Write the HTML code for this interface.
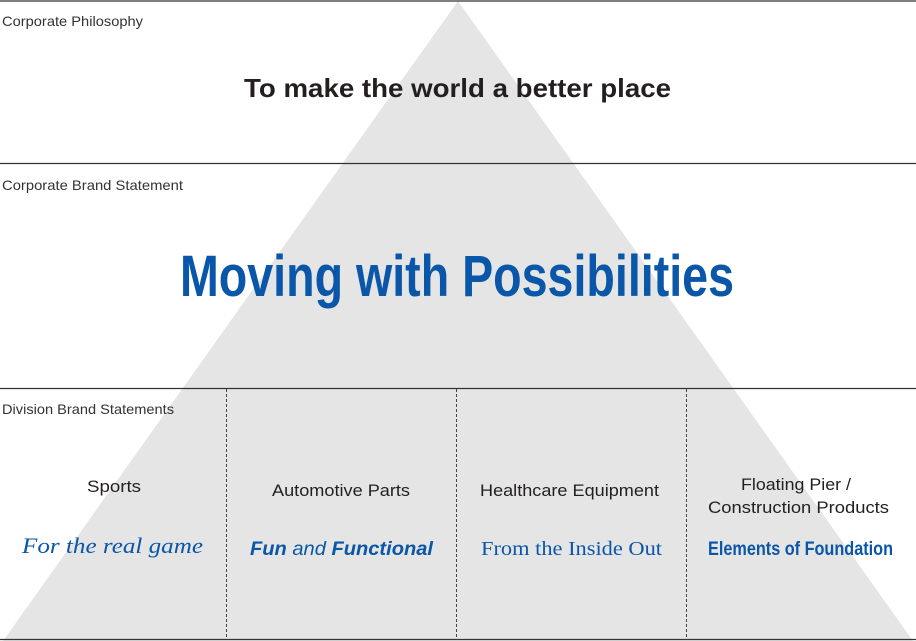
<!DOCTYPE html>
<html><head><meta charset="utf-8"><style>
html,body{margin:0;padding:0;background:#fff;}
svg{display:block;}
</style></head><body>
<svg width="916" height="641" viewBox="0 0 916 641" xmlns="http://www.w3.org/2000/svg" font-family="'Liberation Sans', sans-serif">
<polygon points="458,1 3,641 913,641" fill="#e5e5e5"/>
<g stroke="#333" stroke-width="1.2">
<line x1="0" y1="1" x2="916" y2="1"/>
<line x1="0" y1="163.5" x2="916" y2="163.5"/>
<line x1="0" y1="388.5" x2="916" y2="388.5"/>
<line x1="0" y1="639.5" x2="916" y2="639.5"/>
</g>
<g stroke="#444" stroke-width="1" stroke-dasharray="3,2">
<line x1="226.5" y1="389" x2="226.5" y2="639"/>
<line x1="456.5" y1="389" x2="456.5" y2="639"/>
<line x1="686.5" y1="389" x2="686.5" y2="639"/>
</g>
<g fill="#333" font-size="14">
<text x="2" y="26" textLength="141" lengthAdjust="spacingAndGlyphs">Corporate Philosophy</text>
<text x="2" y="190" textLength="181" lengthAdjust="spacingAndGlyphs">Corporate Brand Statement</text>
<text x="2" y="414" textLength="172" lengthAdjust="spacingAndGlyphs">Division Brand Statements</text>
</g>
<text x="244" y="97" font-size="26" font-weight="bold" fill="#231f1f" textLength="427" lengthAdjust="spacingAndGlyphs">To make the world a better place</text>
<text x="180" y="296" font-size="58" font-weight="bold" fill="#0a56a8" textLength="554" lengthAdjust="spacingAndGlyphs">Moving with Possibilities</text>
<g fill="#231f1f" font-size="17">
<text x="87" y="492" textLength="54" lengthAdjust="spacingAndGlyphs">Sports</text>
<text x="272" y="496" textLength="138" lengthAdjust="spacingAndGlyphs">Automotive Parts</text>
<text x="480" y="496" textLength="179" lengthAdjust="spacingAndGlyphs">Healthcare Equipment</text>
<text x="741" y="490" textLength="110" lengthAdjust="spacingAndGlyphs">Floating Pier /</text>
<text x="708" y="513" textLength="181" lengthAdjust="spacingAndGlyphs">Construction Products</text>
</g>
<g fill="#0a56a8">
<text x="22" y="553" font-family="'Liberation Serif', serif" font-style="italic" font-size="22" textLength="181" lengthAdjust="spacingAndGlyphs">For the real game</text>
<text x="250" y="555" font-size="19" font-style="italic" textLength="183" lengthAdjust="spacingAndGlyphs"><tspan font-weight="bold">Fun</tspan> and <tspan font-weight="bold">Functional</tspan></text>
<text x="481" y="555" font-family="'Liberation Serif', serif" font-size="20" textLength="181" lengthAdjust="spacingAndGlyphs">From the Inside Out</text>
<text x="708" y="555" font-size="19" font-weight="bold" textLength="185" lengthAdjust="spacingAndGlyphs">Elements of Foundation</text>
</g>
</svg>
</body></html>
